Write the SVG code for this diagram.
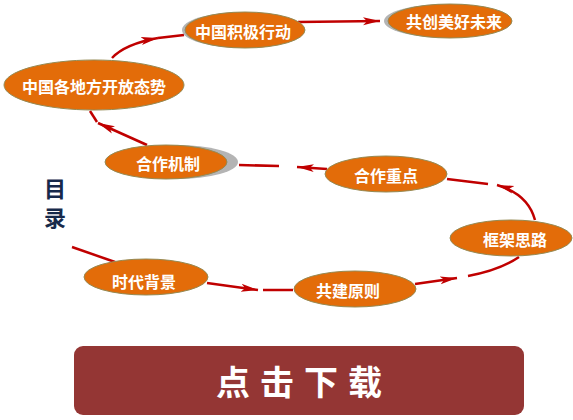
<svg xmlns="http://www.w3.org/2000/svg" width="573" height="420" viewBox="0 0 573 420">
<defs>
<marker id="arr" markerUnits="userSpaceOnUse" markerWidth="18" markerHeight="10" viewBox="0 0 18 10" refX="17" refY="5" orient="auto">
<path d="M0,1 L17,5 L0,9 L4,5 z" fill="#c00000"/>
</marker>
</defs>
<style>
.node{fill:#e36c09;stroke:#948a54;stroke-width:1}
.shadow{fill:#b4b4b4}
.lbl{font-family:"Noto Sans CJK SC","Noto Sans",sans-serif;font-size:16px;font-weight:700;fill:#ffffff;text-anchor:middle;dominant-baseline:central}
.con{fill:none;stroke:#c00000;stroke-width:2.5}
.arr{marker-end:url(#arr)}
</style>
<rect width="573" height="420" fill="#ffffff"/>
<g id="connectors">
<path class="con" d="M72,247 L115,262"/>
<path class="con arr" d="M207,283 L258,290"/>
<path class="con" d="M263,290 L293,290"/>
<path class="con arr" d="M415,284 L457,278"/>
<path class="con" d="M468,276 Q500,270 519,257"/>
<path class="con arr" d="M535,220 Q528,194 497,185"/>
<path class="con" d="M447,179 L488,184"/>
<path class="con arr" d="M327,169 L297,167"/>
<path class="con" d="M239,165 L279,166"/>
<path class="con arr" d="M147,145 L98,123"/>
<path class="con" d="M97,122 L90,111"/>
<path class="con arr" d="M112,58 Q125,44 158,38"/>
<path class="con" d="M158,38 L184,35"/>
<path class="con arr" d="M298,22 L380,21"/>
</g>
<g id="n1">
<ellipse class="node" cx="94" cy="85" rx="90" ry="25"/>
<text class="lbl" x="94" y="86">中国各地方开放态势</text>
</g>
<g id="n2">
<ellipse class="shadow" cx="243" cy="30" rx="61" ry="18"/>
<ellipse class="node" cx="245" cy="30" rx="60" ry="18"/>
<text class="lbl" x="243" y="31">中国积极行动</text>
</g>
<g id="n3">
<ellipse class="shadow" cx="447" cy="21" rx="63" ry="17"/>
<ellipse class="node" cx="450" cy="21" rx="62" ry="17"/>
<text class="lbl" x="454" y="21">共创美好未来</text>
</g>
<g id="n4">
<ellipse class="shadow" cx="176" cy="162" rx="62" ry="17"/>
<ellipse class="node" cx="166" cy="162" rx="61" ry="17"/>
<text class="lbl" x="168" y="163">合作机制</text>
</g>
<g id="n5">
<ellipse class="node" cx="386" cy="174" rx="61" ry="18"/>
<text class="lbl" x="386" y="175">合作重点</text>
</g>
<g id="n6">
<ellipse class="node" cx="511" cy="238" rx="61" ry="18"/>
<text class="lbl" x="515" y="239">框架思路</text>
</g>
<g id="n7">
<ellipse class="node" cx="355" cy="289" rx="61" ry="18"/>
<text class="lbl" x="348" y="290">共建原则</text>
</g>
<g id="n8">
<ellipse class="node" cx="146" cy="277" rx="62" ry="18"/>
<text class="lbl" x="144" y="281">时代背景</text>
</g>
<g id="title">
<text x="55" y="187" font-family="Noto Sans CJK SC,sans-serif" font-size="22" font-weight="700" fill="#17294a" text-anchor="middle" dominant-baseline="central">目</text>
<text x="55" y="216" font-family="Noto Sans CJK SC,sans-serif" font-size="22" font-weight="700" fill="#17294a" text-anchor="middle" dominant-baseline="central">录</text>
</g>
<g id="download">
<rect x="74" y="346" width="450" height="69" rx="9" fill="#943634"/>
<text x="304" y="380" font-family="Noto Sans CJK SC,sans-serif" font-size="34" font-weight="700" fill="#ffffff" text-anchor="middle" dominant-baseline="central" letter-spacing="10">点击下载</text>
</g>
</svg>
